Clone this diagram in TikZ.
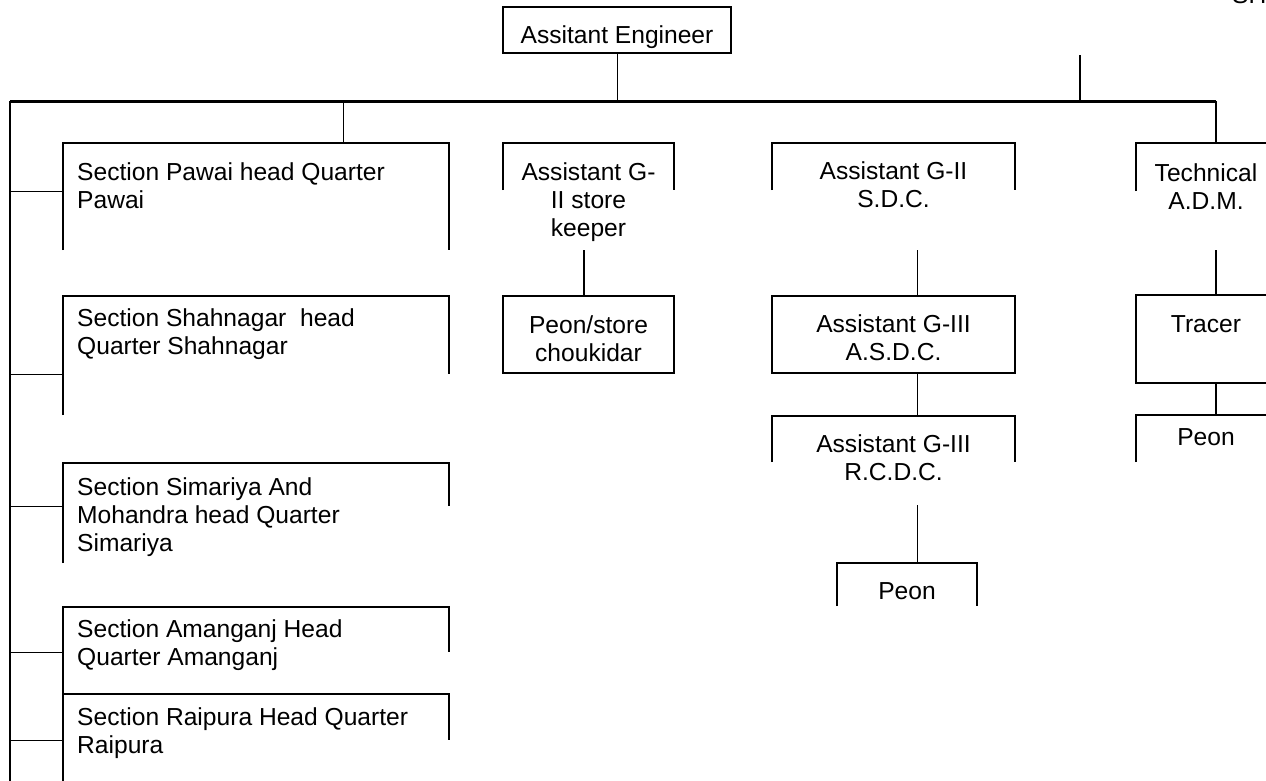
\documentclass[tikz,border=0pt]{standalone}
\usepackage{fontspec}
\setmainfont{Liberation Sans}
\tikzset{
  frame/.style={inner sep=0pt, outer sep=0pt, anchor=north west}, % invisible box, its outline is drawn by hand
  outline/.style={line width=2pt},
  link/.style={line width=1pt},
  thick link/.style={line width=2pt},
  spine/.style={line width=1.7pt},
  bus/.style={line width=3pt},
  txt/.style={inner sep=0pt, font=\fontsize{24.6}{28.4}\selectfont},
  sectxt/.style={txt, anchor=base west, align=left}, % base = last line
  ctrtxt/.style={txt, anchor=base, align=center},
}

\begin{document}
\begin{tikzpicture}[x=1pt, y=-1pt]
  \useasboundingbox (0,0) rectangle (1266,780);

  % head of the office
  \node[frame, minimum width=228, minimum height=46] (ae) at (503,7) {};
  \draw[outline] (ae.north west) rectangle (ae.south east);
  \node[ctrtxt] (aetxt) at ([yshift=-36]ae.north) {Assitant Engineer};
  \node[txt, anchor=base west] (cut) at (1232,3) {SH};

  % main bus and the left spine
  \coordinate (busL) at (10,101);
  \coordinate (busR) at (1216,101);
  \coordinate (spineend) at (10,790);
  \coordinate (offpage) at (1080,55);
  \draw[bus] (busL) -- (busR);
  \draw[spine] (busL) -- (spineend);
  \draw[link] (ae.south) -- (ae.south |- busL);
  \draw[thick link] (offpage) -- (offpage |- busL);

  % sections
  \node[frame, minimum width=386, minimum height=107] (pawai) at (63,143) {};
  \draw[outline] (pawai.south west) |- (pawai.north east) -- (pawai.south east);
  \node[sectxt] (pawaitxt) at ([xshift=14,yshift=-65.4]pawai.north west) {Section Pawai head Quarter\\Pawai};
  \coordinate (pawaiup) at ([xshift=280]pawai.north west);
  \draw[link] (pawaiup) -- (pawaiup |- busL);
  \coordinate (pawaiin) at ([yshift=-48]pawai.north west);
  \draw[link] (busL |- pawaiin) -- (pawaiin);

  \node[frame, minimum width=386, minimum height=119] (shah) at (63,296) {};
  \draw[outline] (shah.south west) |- (shah.north east) -- ++(0,78);
  \node[sectxt] (shahtxt) at ([xshift=14,yshift=-58.4]shah.north west) {Section Shahnagar~ head\\Quarter Shahnagar};
  \coordinate (shahin) at ([yshift=-78]shah.north west);
  \draw[link] (busL |- shahin) -- (shahin);

  \node[frame, minimum width=386, minimum height=100] (sima) at (63,463) {};
  \draw[outline] (sima.south west) |- (sima.north east) -- ++(0,43);
  \node[sectxt] (simatxt) at ([xshift=14,yshift=-88.8]sima.north west) {Section Simariya And\\Mohandra head Quarter\\Simariya};
  \coordinate (simain) at ([yshift=-43]sima.north west);
  \draw[link] (busL |- simain) -- (simain);

  \node[frame, minimum width=386, minimum height=87] (aman) at (63,607) {};
  \draw[outline] (aman.south west) |- (aman.north east) -- ++(0,45);
  \node[sectxt] (amantxt) at ([xshift=14,yshift=-58.4]aman.north west) {Section Amanganj Head\\Quarter Amanganj};
  \coordinate (amanin) at ([yshift=-45]aman.north west);
  \draw[link] (busL |- amanin) -- (amanin);

  \node[frame, minimum width=386, minimum height=96] (raip) at (63,694) {};
  \draw[outline] (raip.south west) |- (raip.north east) -- ++(0,46);
  \node[sectxt] (raiptxt) at ([xshift=14,yshift=-59.4]raip.north west) {Section Raipura Head Quarter\\Raipura};
  \coordinate (raipin) at ([yshift=-46]raip.north west);
  \draw[link] (busL |- raipin) -- (raipin);

  % store
  \node[frame, minimum width=171, minimum height=107] (keeper) at (503,143) {};
  \draw[outline] ([yshift=-47]keeper.north west) |- (keeper.north east) -- ++(0,47);
  \node[ctrtxt] (keepertxt) at ([yshift=-93.8]keeper.north) {Assistant G-\\II store\\keeper};
  \node[frame, minimum width=171, minimum height=77] (peonstore) at (503,296) {};
  \draw[outline] (peonstore.north west) rectangle (peonstore.south east);
  \node[ctrtxt] (peonstoretxt) at ([yshift=-65.4]peonstore.north) {Peon/store\\choukidar};
  \draw[thick link] ([xshift=-5]keeper.south) -- ([xshift=-5]peonstore.north);

  % development clerks
  \node[frame, minimum width=243, minimum height=107] (sdc) at (772,143) {};
  \draw[outline] ([yshift=-47]sdc.north west) |- (sdc.north east) -- ++(0,47);
  \node[ctrtxt] (sdctxt) at ([yshift=-64.4]sdc.north) {Assistant G-II\\S.D.C.};
  \node[frame, minimum width=243, minimum height=77] (asdc) at (772,296) {};
  \draw[outline] (asdc.north west) rectangle (asdc.south east);
  \node[ctrtxt] (asdctxt) at ([yshift=-64.4]asdc.north) {Assistant G-III\\A.S.D.C.};
  \node[frame, minimum width=243, minimum height=89] (rcdc) at (772,416) {};
  \draw[outline] ([yshift=-46]rcdc.north west) |- (rcdc.north east) -- ++(0,46);
  \node[ctrtxt] (rcdctxt) at ([yshift=-64.4]rcdc.north) {Assistant G-III\\R.C.D.C.};
  \node[frame, minimum width=140, minimum height=50] (peonc) at (837,563) {};
  \draw[outline] ([yshift=-43]peonc.north west) |- (peonc.north east) -- ++(0,43);
  \node[ctrtxt] (peonctxt) at ([yshift=-36]peonc.north) {Peon};
  \coordinate (sdcx) at ([xshift=23.5]sdc.south);
  \draw[link] (sdcx) -- (sdcx |- asdc.north);
  \draw[link] (asdc.south -| sdcx) -- (rcdc.north -| sdcx);
  \draw[link] (rcdc.south -| sdcx) -- (peonc.north -| sdcx);

  % technical
  \node[frame, minimum width=160, minimum height=107] (tech) at (1136,143) {};
  \draw[outline] ([yshift=-48]tech.north west) |- (tech.north east) -- ++(0,48);
  \node[ctrtxt] (techtxt) at ([xshift=-10,yshift=-66.4]tech.north) {Technical\\A.D.M.};
  \draw[thick link] (busR) -- (tech.north);
  \node[frame, minimum width=160, minimum height=88] (tracer) at (1136,295) {};
  \draw[outline] (tracer.north west) rectangle (tracer.south east);
  \node[ctrtxt] (tracertxt) at ([xshift=-10,yshift=-37]tracer.north) {Tracer};
  \draw[thick link] (tech.south) -- (tracer.north);
  \node[frame, minimum width=160, minimum height=47] (peont) at (1136,415) {};
  \draw[outline] ([yshift=-47]peont.north west) |- (peont.north east) -- ++(0,47);
  \node[ctrtxt] (peonttxt) at ([xshift=-10,yshift=-30]peont.north) {Peon};
  \draw[thick link] (tracer.south) -- (peont.north);
\end{tikzpicture}
\end{document}
